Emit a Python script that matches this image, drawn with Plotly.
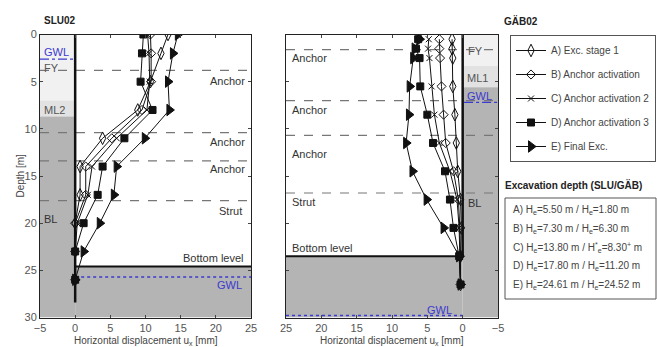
import plotly.graph_objects as go

W, H = 657, 347


def px(x):
    return x / W


def py(y):
    return 1 - y / H


# ---- measured wall displacements (mm) versus depth (m) ----
slu_depth = [0, 2, 5, 8, 11, 14, 17, 20, 23, 26]
slu_A = [13.2, 12.2, 10.7, 8.9, 3.9, 0.7, 0.7, 0.0, 0.0, 0.0]
slu_B = [10.7, 10.8, 10.8, 9.5, 5.2, 1.5, 1.5, 0.0, 0.0, 0.0]
slu_C = [10.3, 10.5, 10.6, 10.2, 5.9, 2.4, 1.8, 0.3, 0.0, 0.0]
slu_D = [9.7, 9.5, 9.3, 11.0, 7.0, 3.9, 3.2, 1.2, 0.0, 0.0]
slu_E = [14.6, 13.9, 13.2, 13.4, 9.9, 5.9, 5.5, 3.5, 1.2, 0.0]

gab_depth = [0.5, 1.5, 2.5, 5.5, 8.5, 11.5, 14.5, 17.5, 20.5, 23.5, 26.5]
gab_A = [1.5, 1.5, 1.4, 1.4, 1.1, 0.9, 0.7, 0.3, 0.2, 0.3, 0.3]
gab_B = [3.3, 3.3, 3.2, 3.0, 2.7, 2.4, 1.3, 0.6, 0.4, 0.4, 0.3]
gab_C = [4.8, 4.9, 4.7, 4.4, 4.0, 3.3, 1.8, 0.8, 0.5, 0.4, 0.3]
gab_D = [6.3, 6.6, 6.1, 6.0, 5.0, 4.2, 2.5, 1.8, 1.3, 0.5, 0.3]
gab_E = [6.1, 6.8, 7.0, 7.5, 7.6, 8.0, 7.1, 5.1, 2.7, 0.5, 0.3]

series_names = ["A) Exc. stage 1", "B) Anchor activation", "C) Anchor activation 2",
                "D) Anchor activation 3", "E) Final Exc."]
slu_series = [slu_A, slu_B, slu_C, slu_D, slu_E]
gab_series = [gab_A, gab_B, gab_C, gab_D, gab_E]

x_ticks = [-5, 0, 5, 10, 15, 20, 25]
depth_ticks = [0, 5, 10, 15, 20, 25, 30]

# ---- soil layers and levels (depth in m) ----
slu_fill_bottom, slu_ml2_bottom = 7.0, 8.7
slu_dashed = [3.8, 10.4, 13.4, 17.6]
slu_bottom_level, slu_gwl_top, slu_gwl_bottom, slu_wall_toe = 24.6, 2.6, 25.7, 28.4

gab_fy_bottom, gab_ml1_bottom = 3.3, 5.6
gab_dashed = [1.6, 7.0, 10.7, 16.8]
gab_bottom_level, gab_gwl_top, gab_gwl_bottom = 23.5, 7.2, 29.8

excavation_rows = [
    "A) H<sub>e</sub>=5.50 m / H<sub>e</sub>=1.80 m",
    "B) H<sub>e</sub>=7.30 m / H<sub>e</sub>=6.30 m",
    "C) H<sub>e</sub>=13.80 m / H<sup>*</sup><sub>e</sub>=8.30<sup>+</sup> m",
    "D) H<sub>e</sub>=17.80 m / H<sub>e</sub>=11.20 m",
    "E) H<sub>e</sub>=24.61 m / H<sub>e</sub>=24.52 m",
]

symbols = ["diamond-tall-open", "diamond-open", "x-thin-open", "square", "triangle-right"]
sizes = [9, 7, 6, 7, 10]

FONT = "Liberation Sans, Arial, sans-serif"
INK = "#111111"
DARK = "#b4b4b4"
LIGHT = "#f1f1f1"
MID = "#e2e2e2"
BLUE = "#3a3ad0"
TXT = "#333333"

fig = go.Figure()

for i in range(5):
    common = dict(
        mode="lines+markers",
        line=dict(color=INK, width=1),
        marker=dict(symbol=symbols[i], size=sizes[i], color=INK,
                    line=dict(color=INK, width=1)),
        legendgroup=str(i),
    )
    fig.add_trace(go.Scatter(x=slu_series[i], y=slu_depth, name=series_names[i],
                             xaxis="x", yaxis="y", showlegend=True, **common))
    fig.add_trace(go.Scatter(x=gab_series[i], y=gab_depth, name=series_names[i],
                             xaxis="x2", yaxis="y2", showlegend=False, **common))

shapes = []


def rect(xr, yr, x0, x1, y0, y1, color):
    shapes.append(dict(type="rect", xref=xr, yref=yr, x0=x0, x1=x1, y0=y0, y1=y1,
                       fillcolor=color, line=dict(width=0), layer="below"))


def hline(xr, yr, x0, x1, y, color, width, dash):
    shapes.append(dict(type="line", xref=xr, yref=yr, x0=x0, x1=x1, y0=y, y1=y,
                       line=dict(color=color, width=width, dash=dash), layer="below"))


# SLU02 panel
rect("x", "y", -5, 0, 0, slu_fill_bottom, LIGHT)
rect("x", "y", -5, 0, slu_fill_bottom, slu_ml2_bottom, MID)
rect("x", "y", -5, 0, slu_ml2_bottom, 30, DARK)
rect("x", "y", 0, 25, slu_bottom_level, 30, DARK)
for d in slu_dashed:
    hline("x", "y", -5, 25, d, "#777777", 1.2, "dash")
hline("x", "y", -5, -0.2, slu_gwl_top, BLUE, 1.2, "dashdot")
hline("x", "y", 0, 25, slu_gwl_bottom, BLUE, 1.5, "dot")
hline("x", "y", 0, 25, slu_bottom_level, INK, 2, "solid")
shapes.append(dict(type="line", xref="x", yref="y", x0=0, x1=0, y0=0, y1=slu_wall_toe,
                   line=dict(color=INK, width=2.5), layer="below"))

# GÄB02 panel
rect("x2", "y2", 0, -5, 0, gab_fy_bottom, LIGHT)
rect("x2", "y2", 0, -5, gab_fy_bottom, gab_ml1_bottom, MID)
rect("x2", "y2", 0, -5, gab_ml1_bottom, 30, DARK)
rect("x2", "y2", 25, 0, gab_bottom_level, 30, DARK)
for d in gab_dashed:
    hline("x2", "y2", 25, -5, d, "#777777", 1.2, "dash")
hline("x2", "y2", -0.2, -5, gab_gwl_top, BLUE, 1.2, "dashdot")
hline("x2", "y2", 25, 0, gab_gwl_bottom, BLUE, 1.5, "dot")
hline("x2", "y2", 25, 0, gab_bottom_level, INK, 2, "solid")
shapes.append(dict(type="line", xref="x2", yref="y2", x0=0, x1=0, y0=0, y1=gab_bottom_level,
                   line=dict(color=INK, width=2.5), layer="below"))

# excavation depth box
shapes.append(dict(type="rect", xref="paper", yref="paper",
                   x0=px(505), x1=px(656), y0=py(299), y1=py(198),
                   line=dict(color="#555555", width=1), fillcolor="white"))

annotations = []


def label(xr, yr, x, y, text, anchor="center", color=TXT, size=11, bold=False):
    annotations.append(dict(xref=xr, yref=yr, x=x, y=y, text=f"<b>{text}</b>" if bold else text,
                            showarrow=False, xanchor=anchor, yanchor="middle",
                            font=dict(family=FONT, size=size, color=color)))


# SLU02 texts
label("x", "y", 24.4, 4.9, "Anchor", "right")
label("x", "y", 24.4, 11.4, "Anchor", "right")
label("x", "y", 24.4, 14.3, "Anchor", "right")
label("x", "y", 24.0, 18.7, "Strut", "right")
label("x", "y", 24.3, 23.7, "Bottom level", "right")
label("x", "y", 24.0, 26.6, "GWL", "right", color=BLUE)
label("x", "y", -4.7, 1.9, "GWL", "left", color=BLUE)
label("x", "y", -4.7, 3.6, "FY", "left", color="#555555")
label("x", "y", -4.7, 8.0, "ML2", "left", color="#555555")
label("x", "y", -4.7, 19.6, "BL", "left", color="#333333")

# GÄB02 texts
label("x2", "y2", 24.5, 2.5, "Anchor", "left")
label("x2", "y2", 24.5, 8.0, "Anchor", "left")
label("x2", "y2", 24.5, 12.7, "Anchor", "left")
label("x2", "y2", 24.5, 17.8, "Strut", "left")
label("x2", "y2", 24.5, 22.6, "Bottom level", "left")
label("x2", "y2", 3.3, 29.2, "GWL", "center", color=BLUE)
label("x2", "y2", -0.5, 1.8, "FY", "left", color="#555555")
label("x2", "y2", -0.4, 4.6, "ML1", "left", color="#555555")
label("x2", "y2", -0.4, 6.5, "GWL", "left", color=BLUE)
label("x2", "y2", -0.5, 17.9, "BL", "left", color="#333333")

# titles and axis labels
label("paper", "paper", px(42), py(21), "SLU02", "left", color="#222222", size=10, bold=True)
label("paper", "paper", px(502), py(21), "GÄB02", "left", color="#222222", size=10, bold=True)
label("paper", "paper", px(145.5), py(340.5), "Horizontal displacement u<sub>x</sub> [mm]",
      color="#444444", size=10)
label("paper", "paper", px(392), py(340.5), "Horizontal displacement u<sub>x</sub> [mm]",
      color="#444444", size=10)
annotations.append(dict(xref="paper", yref="paper", x=px(12), y=py(176), text="Depth [m]",
                        textangle=-90, showarrow=False,
                        font=dict(family=FONT, size=10, color="#444444")))
label("paper", "paper", px(503), py(185), "Excavation depth (SLU/GÄB)", "left",
      color="#222222", size=10, bold=True)
for i, row in enumerate(excavation_rows):
    label("paper", "paper", px(511), py(210 + 18.8 * i), row, "left", color="#444444", size=10)

axis_common = dict(showline=True, linecolor="#222222", linewidth=1, mirror="ticks",
                   ticks="inside", ticklen=3, tickcolor="#444444", showgrid=False,
                   zeroline=False, tickfont=dict(family=FONT, size=11, color="#555555"))
y_dom = [py(317.5), py(34.5)]

fig.update_layout(
    width=W, height=H,
    margin=dict(l=0, r=0, t=0, b=0, autoexpand=False),
    paper_bgcolor="white", plot_bgcolor="white",
    font=dict(family=FONT),
    xaxis=dict(domain=[px(40), px(251)], range=[-5, 25], tickvals=x_ticks, anchor="y",
               **axis_common),
    yaxis=dict(domain=y_dom, range=[30, 0], tickvals=depth_ticks, anchor="x", **axis_common),
    xaxis2=dict(domain=[px(286), px(498)], range=[25, -5], tickvals=x_ticks, anchor="y2",
                **axis_common),
    yaxis2=dict(domain=y_dom, range=[30, 0], tickvals=depth_ticks, anchor="x2",
                showticklabels=False, **axis_common),
    shapes=shapes,
    annotations=annotations,
    showlegend=True,
    legend=dict(x=px(510), y=py(35), xanchor="left", yanchor="top",
                bordercolor="#555555", borderwidth=1, bgcolor="white",
                traceorder="grouped", tracegroupgap=5,
                font=dict(family=FONT, size=10, color="#444444")),
)

fig.write_html("out.html")
